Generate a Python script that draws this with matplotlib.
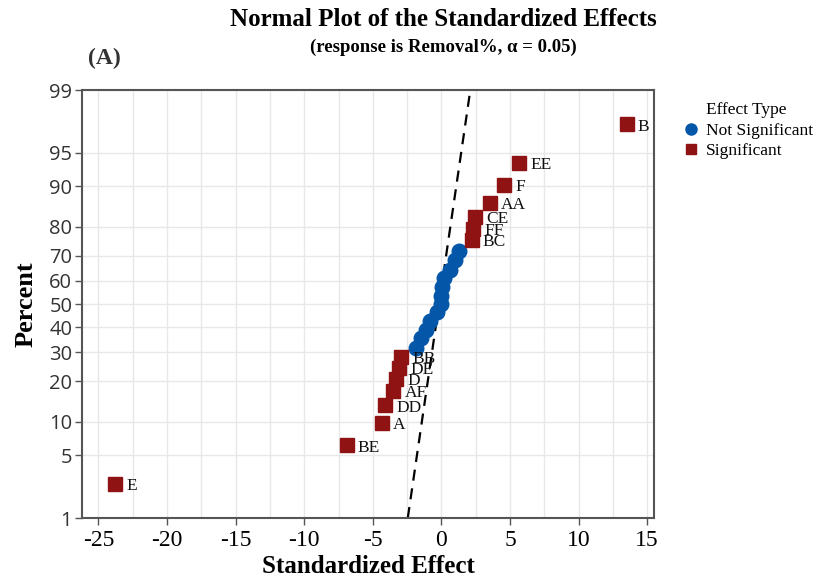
import matplotlib
matplotlib.use('Agg')
import matplotlib.pyplot as plt
from matplotlib.lines import Line2D
from matplotlib.ticker import MultipleLocator
from statistics import NormalDist

# significant effects (label, standardized effect, plotted percent)
sig_terms = ['E', 'BE', 'A', 'DD', 'AF', 'D', 'DE', 'BB',
             'BC', 'FF', 'CE', 'AA', 'F', 'EE', 'B']
sig_effect = [-23.8, -6.9, -4.35, -4.1, -3.5, -3.3, -3.1, -2.95,
              2.2, 2.3, 2.45, 3.55, 4.6, 5.65, 13.5]
sig_pct = [2.55, 6.2, 9.85, 13.5, 17.15, 20.8, 24.45, 28.1,
           75.55, 79.2, 82.85, 86.5, 90.15, 93.8, 97.45]

# not significant effects
ns_effect = [-1.85, -1.5, -1.15, -0.8, -0.35, -0.05, 0.0, 0.05, 0.2, 0.6, 1.0, 1.3]
ns_pct = [31.75, 35.4, 39.05, 42.7, 46.35, 50.0, 53.65, 57.3, 60.95, 64.6, 68.25, 71.9]

# fitted reference line (mean, sd)
line_mu, line_sd = -0.17, 0.98

pct_ticks = [1, 5, 10, 20, 30, 40, 50, 60, 70, 80, 90, 95, 99]
x_ticks = [-25, -20, -15, -10, -5, 0, 5, 10, 15]

RED = '#8f1313'
BLUE = '#0457a8'
SERIF = 'Liberation Serif'

nd = NormalDist()
z = lambda p: nd.inv_cdf(p / 100.0)

plt.rcParams['axes.unicode_minus'] = False

fig = plt.figure(figsize=(8.19, 5.81), dpi=100)
ax = fig.add_axes([82 / 819, 1 - 518 / 581, (654 - 82) / 819, (518 - 90) / 581])

# reference line
zl = [z(1), z(99)]
ax.plot([line_mu + line_sd * v for v in zl], zl, color='black', lw=1.6,
        ls=(0, (5, 3.5)), zorder=2)

ax.plot(ns_effect, [z(p) for p in ns_pct], 'o', color=BLUE, ms=10.5,
        mec=BLUE, zorder=3)
ax.plot(sig_effect, [z(p) for p in sig_pct], 's', color=RED, ms=9.5,
        mec=RED, zorder=3)

for t, x, p in zip(sig_terms, sig_effect, sig_pct):
    ax.annotate(t, (x, z(p)), xytext=(8, -1.5), textcoords='offset points',
                va='center', ha='left', fontsize=12.5, family=SERIF, color='#111111')

ax.set_xlim(-26.2, 15.5)
ax.set_ylim(z(1), z(99))
ax.set_xticks(x_ticks)
ax.set_xticklabels([str(v) for v in x_ticks], family=SERIF, fontsize=17)
ax.xaxis.set_minor_locator(MultipleLocator(2.5))
ax.set_yticks([z(p) for p in pct_ticks])
ax.set_yticklabels([str(p) for p in pct_ticks], family='Open Sans', fontsize=14.5,
                   color='#333333')

ax.grid(True, which='major', color='#e8e8e8', lw=1, zorder=0)
ax.grid(True, which='minor', axis='x', color='#e8e8e8', lw=1, zorder=0)
ax.set_axisbelow(True)
ax.tick_params(axis='both', which='major', length=5, width=1, color='#555555')
ax.tick_params(axis='y', pad=2)
ax.tick_params(axis='x', which='minor', length=0)
for s in ax.spines.values():
    s.set_color('#555555')
    s.set_linewidth(1.5)

ax.set_xlabel('Standardized Effect', family=SERIF, fontweight='bold', fontsize=18,
              labelpad=3)
ax.set_ylabel('Percent', family=SERIF, fontweight='bold', fontsize=19, labelpad=8)

fig.text(443 / 819, 1 - 20 / 581, 'Normal Plot of the Standardized Effects',
         ha='center', va='center', family=SERIF, fontweight='bold', fontsize=18)
fig.text(443 / 819, 1 - 47 / 581, '(response is Removal%, α = 0.05)',
         ha='center', va='center', family=SERIF, fontweight='bold', fontsize=13.5)
fig.text(88 / 819, 1 - 58 / 581, '(A)', ha='left', va='center', family=SERIF,
         fontweight='bold', fontsize=17, color='#333333')

handles = [Line2D([], [], marker='o', ls='', color=BLUE, ms=8),
           Line2D([], [], marker='s', ls='', color=RED, ms=7)]
fig.legend(handles, ['Not Significant', 'Significant'], title='Effect Type',
           loc='upper left', bbox_to_anchor=(668 / 819, 1 - 90 / 581),
           frameon=False, prop={'family': SERIF, 'size': 12.5},
           title_fontproperties={'family': SERIF, 'size': 12.5},
           handletextpad=0.3, labelspacing=0.25, borderpad=0.2, handlelength=1.2)

fig.savefig('out.png', dpi=100)
